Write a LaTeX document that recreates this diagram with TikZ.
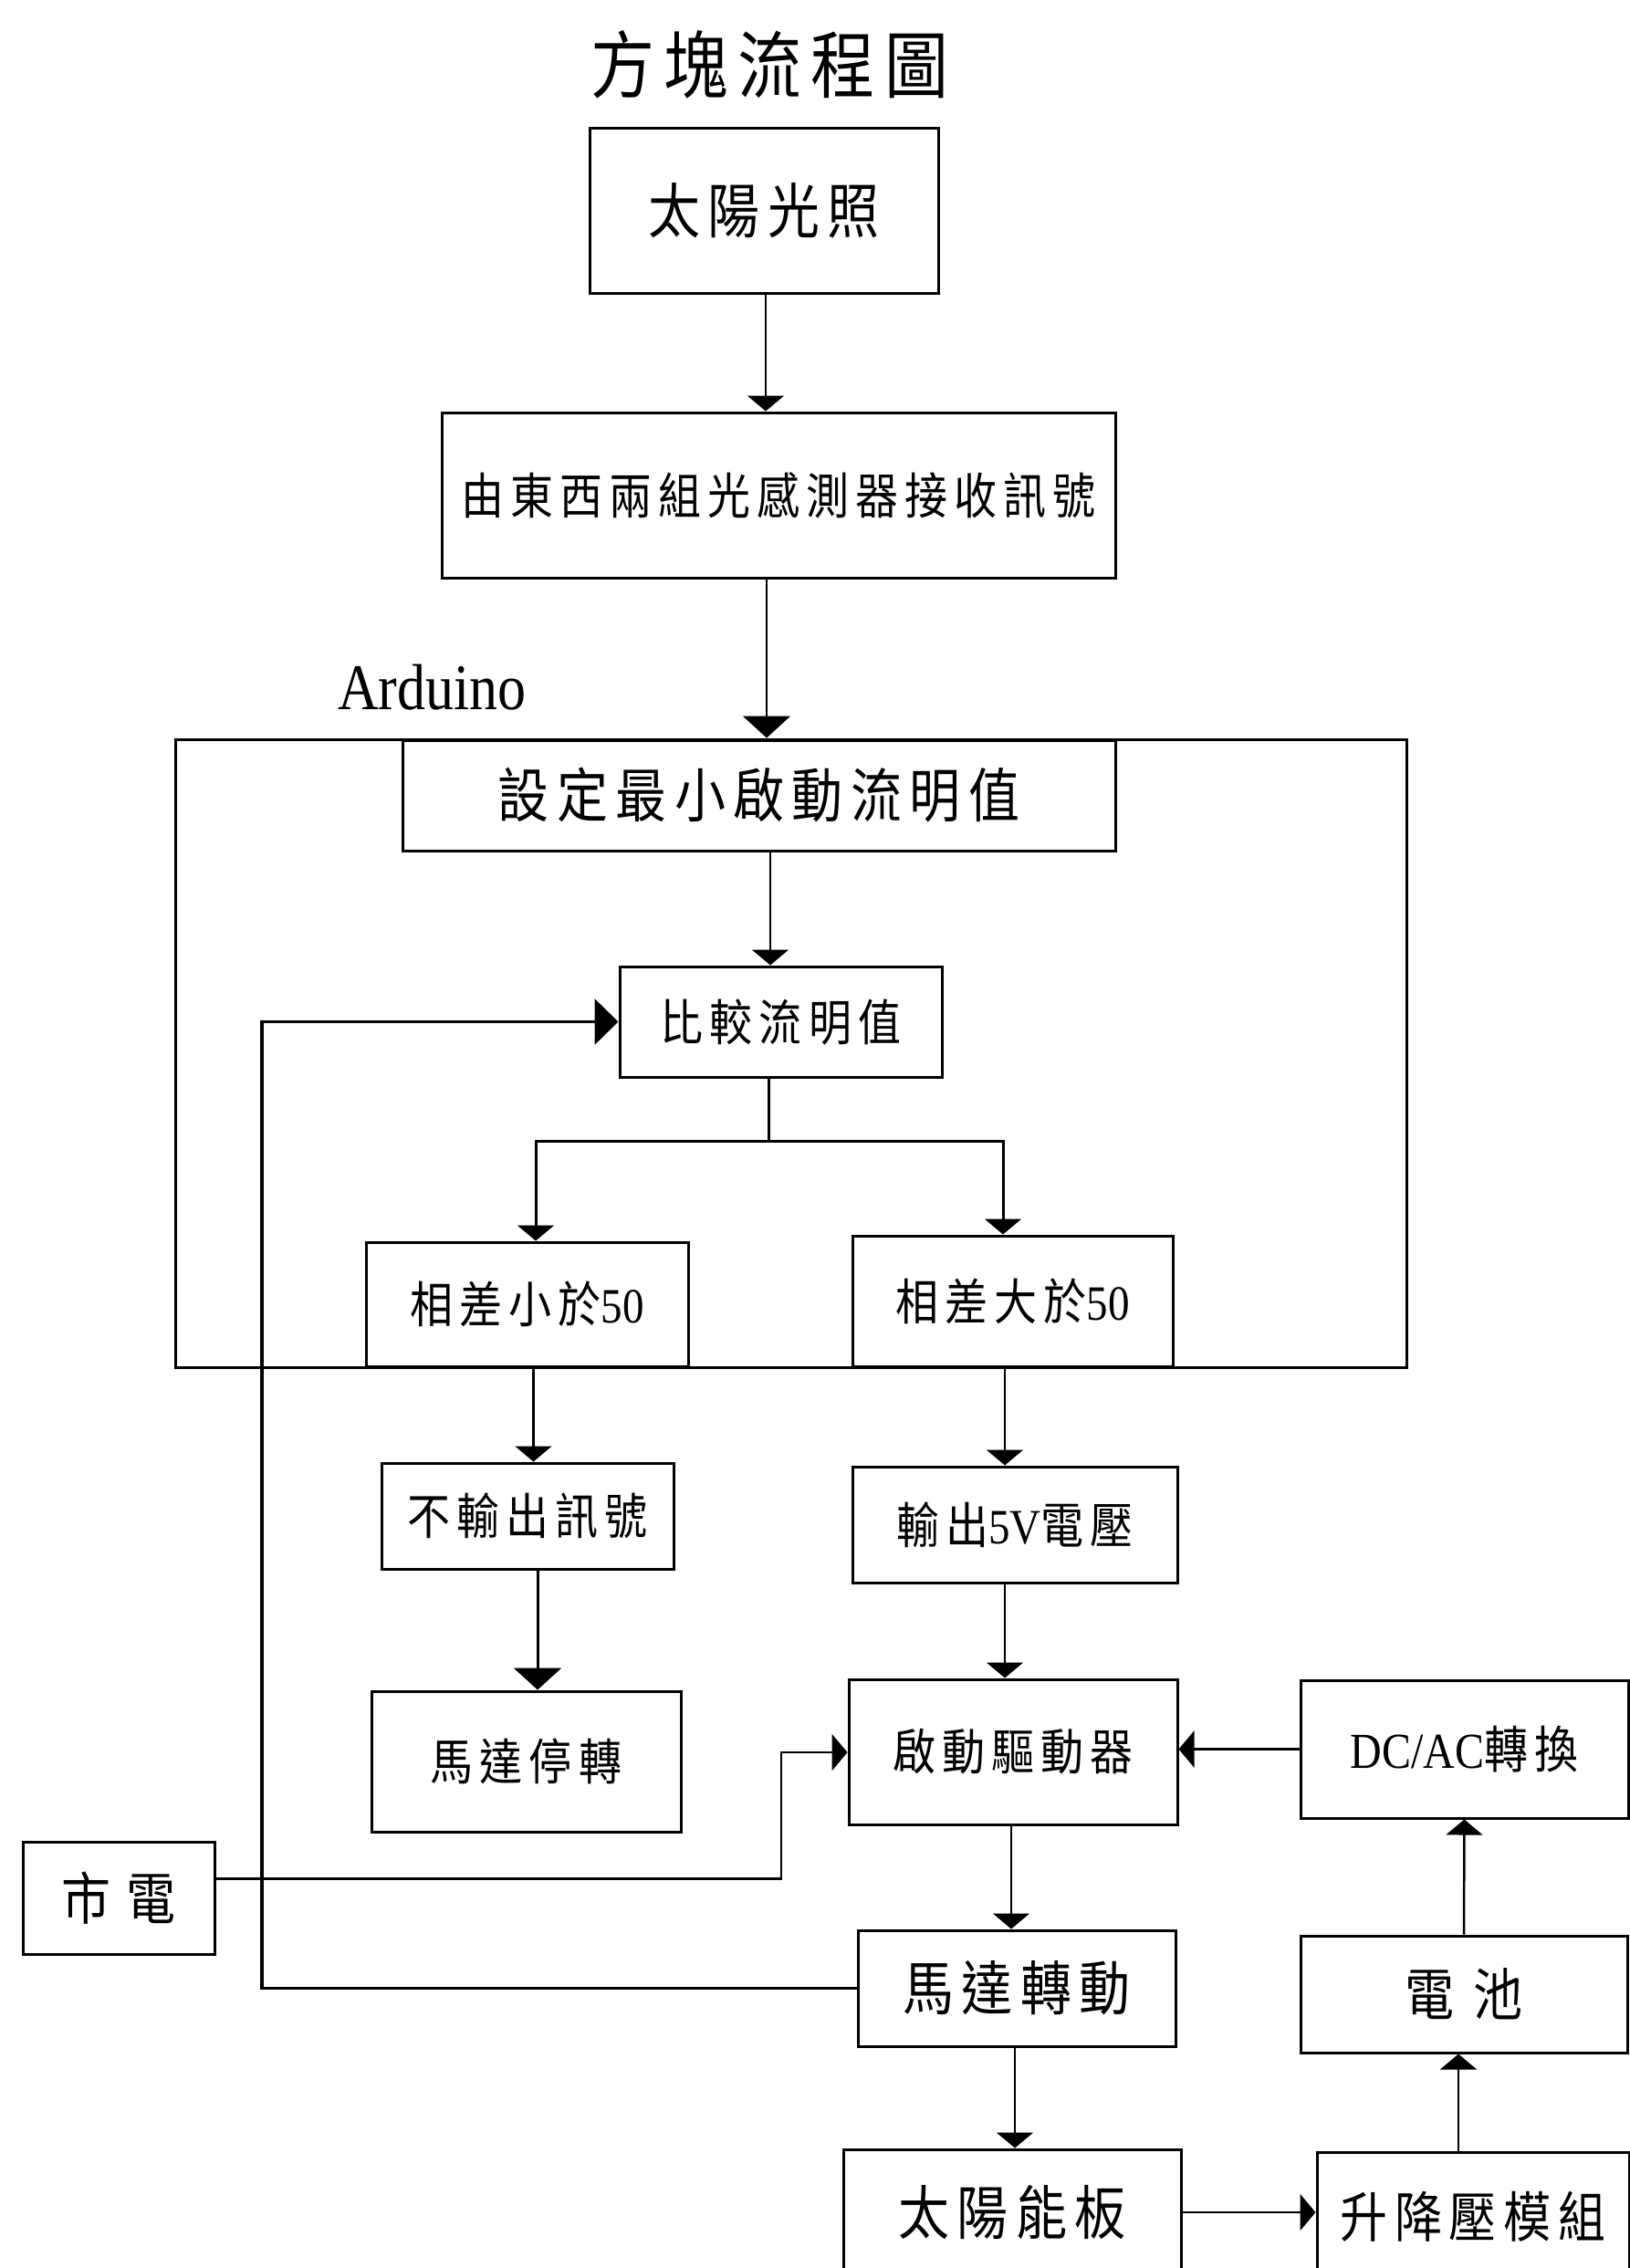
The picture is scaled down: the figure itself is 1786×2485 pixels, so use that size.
\documentclass[tikz,border=0pt]{standalone}
\usepackage{fontspec}
\usepackage{graphicx}
\setmainfont{Liberation Serif}
\newfontfamily\cjk[LetterSpace=15]{Noto Sans CJK TC}
\usetikzlibrary{arrows.meta}
\newcommand\tx[1]{\scalebox{1}[1.15]{#1}}
\newcommand\fsz[1]{\fontsize{#1pt}{#1pt}\selectfont}
\tikzset{
  box/.style={draw, line width=3pt, inner sep=0pt, align=center},
  conn/.style={line width=2.5pt},
  arr/.style={conn, -{Triangle[length=17pt,width=40pt]}},
  arrbig/.style={conn, -{Triangle[length=24pt,width=52pt]}},
  fb/.style={line width=3.5pt, -{Triangle[length=26pt,width=50pt]}},
  small/.style={font=\fsz{47}},
  large/.style={font=\fsz{56}},
}
\begin{document}
\begin{tikzpicture}[x=1pt,y=-1pt]
\useasboundingbox (0,0) rectangle (1786,2485);
\fill[white] (0,0) rectangle (1786,2485);
\clip (0,0) rectangle (1786,2485);

\node[font=\fsz{70}] (title) at (843,71) {\tx{\cjk 方塊流程圖}};

\node[box, font=\fsz{57}, minimum width=382pt, minimum height=181pt] (sun) at (837,230.5) {\tx{\cjk 太陽光照}};
\node[box, font=\fsz{47}, minimum width=738pt, minimum height=181pt] (sens) at (853,542.5) {\tx{\cjk 由東西兩組光感測器接收訊號}};

\node[anchor=base west, inner sep=0pt, font=\fsz{62}] (ard) at (370,777) {\tx{Arduino}};
\node[draw, line width=3pt, inner sep=0pt, minimum width=1349pt, minimum height=688pt] (frame) at (866.5,1154) {};

\node[box, large, minimum width=781pt, minimum height=121pt] (set) at (831.5,871.5) {\tx{\cjk 設定最小啟動流明值}};
\node[box, small, minimum width=353pt, minimum height=121pt] (cmp) at (855.5,1119.5) {\tx{\cjk 比較流明值}};
\node[box, small, minimum width=353pt, minimum height=136pt] (lt) at (577.5,1429) {\tx{{\cjk 相差小於}50}};
\node[box, small, minimum width=351pt, minimum height=143pt] (gt) at (1109.5,1425.5) {\tx{{\cjk 相差大於}50}};

\node[box, small, minimum width=320pt, minimum height=116pt] (noout) at (578,1661) {\tx{\cjk 不輸出訊號}};
\node[box, small, minimum width=356pt, minimum height=127pt] (out5) at (1112,1670.5) {\tx{{\cjk 輸出}5V{\cjk 電壓}}};
\node[box, small, minimum width=339pt, minimum height=154pt] (stop) at (576.5,1930) {\tx{\cjk 馬達停轉}};
\node[box, small, minimum width=360pt, minimum height=159pt] (drv) at (1110,1919.5) {\tx{\cjk 啟動驅動器}};
\node[box, font=\fsz{48}, minimum width=359pt, minimum height=151pt] (dcac) at (1604.5,1916.5) {\tx{DC/AC{\cjk 轉換}}};
\node[box, font=\fsz{54}, minimum width=210pt, minimum height=123pt] (city) at (130,2079.5) {\tx{\cjk\addfontfeature{LetterSpace=30}市電}};
\node[box, large, minimum width=348pt, minimum height=127pt] (mrun) at (1114,2178.5) {\tx{\cjk 馬達轉動}};
\node[box, font=\fsz{54}, minimum width=358pt, minimum height=128pt] (bat) at (1604,2185) {\tx{\cjk\addfontfeature{LetterSpace=40}電池}};
\node[box, large, minimum width=370pt, minimum height=138pt] (panel) at (1109,2424) {\tx{\cjk 太陽能板}};
\node[box, font=\fsz{52}, minimum width=342pt, minimum height=142pt] (boost) at (1614,2429) {\tx{\cjk 升降壓模組}};

% connectors
\draw[arr] ([xshift=2pt]sun.south) -- ([xshift=2pt]sun.south |- sens.north);
\draw[arrbig] ([xshift=-13pt]sens.south) -- ([xshift=-13pt]sens.south |- frame.north);
\draw[arr] ([xshift=12.5pt]set.south) -- ([xshift=12.5pt]set.south |- cmp.north);
\coordinate (br) at (842,1250);
\draw[conn, line width=3pt] (cmp.south -| br) -- (br);
\draw[arr, line width=3pt] (br) -| ([xshift=9.5pt]lt.north);
\draw[arr, line width=3pt] (br) -| ([xshift=-10.5pt]gt.north);
\draw[arr] ([xshift=7pt]lt.south) -- ([xshift=7pt]lt.south |- noout.north);
\draw[arr] ([xshift=-8.5pt]gt.south) -- ([xshift=-8.5pt]gt.south |- out5.north);
\draw[arrbig, line width=3pt] ([xshift=11pt]noout.south) -- ([xshift=11pt]noout.south |- stop.north);
\draw[arr] ([xshift=-11pt]out5.south) -- ([xshift=-11pt]out5.south |- drv.north);
\draw[arr] (dcac.west) -- (dcac.west -| drv.east);
\coordinate (jx) at (856,1920);
\draw[arr] ([yshift=21pt]city.east) -| (jx) -- (jx -| drv.west);
\draw[arr] ([xshift=-2pt]drv.south) -- ([xshift=-2pt]drv.south |- mrun.north);
\draw[arr] ([xshift=-2pt]mrun.south) -- ([xshift=-2pt]mrun.south |- panel.north);
\coordinate (fbx) at (287,1500);
\draw[fb] (mrun.west) -| (fbx |- cmp.west) -- (cmp.west);
\draw[arr] (panel.east) -- (panel.east -| boost.west);
\draw[arr] ([xshift=-6pt]bat.south |- boost.north) -- ([xshift=-6pt]bat.south);
\draw[arr] (bat.north) -- (dcac.south);
\end{tikzpicture}
\end{document}
